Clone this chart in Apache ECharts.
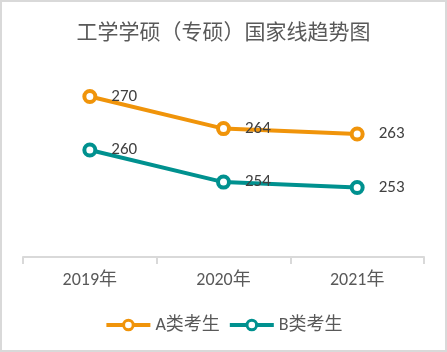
<!DOCTYPE html>
<html><head><meta charset="utf-8">
<script src="https://cdn.jsdelivr.net/npm/echarts@6/dist/echarts.min.js"></script>
<style>html,body{margin:0;padding:0;background:#fff}#c{width:447px;height:352px}</style>
</head><body><div id="c"></div>
<script>
const categories = ['2019年','2020年','2021年'];
const seriesA = [270, 264, 263];
const seriesB = [260, 254, 253];
const names = ['A类考生','B类考生'];
const colors = ['#F0940A','#00918F'];
const chart = echarts.init(document.getElementById('c'));
const font = 'Calibri, Carlito, "Noto Sans CJK SC", sans-serif';
function mk(name, data, color){
  return {
    name, type:'line', data, color,
    symbol:'circle', symbolSize:11,
    lineStyle:{width:4,color},
    itemStyle:{color:'#fff', borderWidth:4, borderColor:color},
    label:{show:true,position:'right',distance:14,color:'#404040',fontSize:17,fontFamily:font},
    emphasis:{disabled:true}
  };
}
chart.setOption({
  animation:false,
  title:{text:'工学学硕（专硕）国家线趋势图',left:'center',top:16,
    textStyle:{fontFamily:'"Noto Sans CJK SC", sans-serif',fontSize:21,fontWeight:'normal',color:'#595959'}},
  graphic:[{type:'rect',shape:{x:1,y:1,width:445,height:350},style:{fill:'none',stroke:'#d9d9d9',lineWidth:2},silent:true}],
  grid:{left:23,right:23,top:43,bottom:95},
  legend:{bottom:13,left:'center',itemWidth:44,itemHeight:12,itemGap:8,
    textStyle:{color:'#595959',fontSize:18,fontFamily:font},
    data:names.map((n,i)=>({name:n,lineStyle:{width:4,color:colors[i]},itemStyle:{color:'#fff',borderWidth:3,borderColor:colors[i]}}))},
  xAxis:{type:'category',data:categories,boundaryGap:true,
    axisLine:{lineStyle:{color:'#d9d9d9',width:2}},
    axisTick:{show:true,length:7,lineStyle:{color:'#d9d9d9',width:2}},
    axisLabel:{color:'#595959',fontSize:18,margin:15,fontFamily:font}},
  yAxis:{type:'value',min:240,max:280,show:false,splitLine:{show:false}},
  series:[mk(names[0],seriesA,colors[0]), mk(names[1],seriesB,colors[1])]
});
</script></body></html>
